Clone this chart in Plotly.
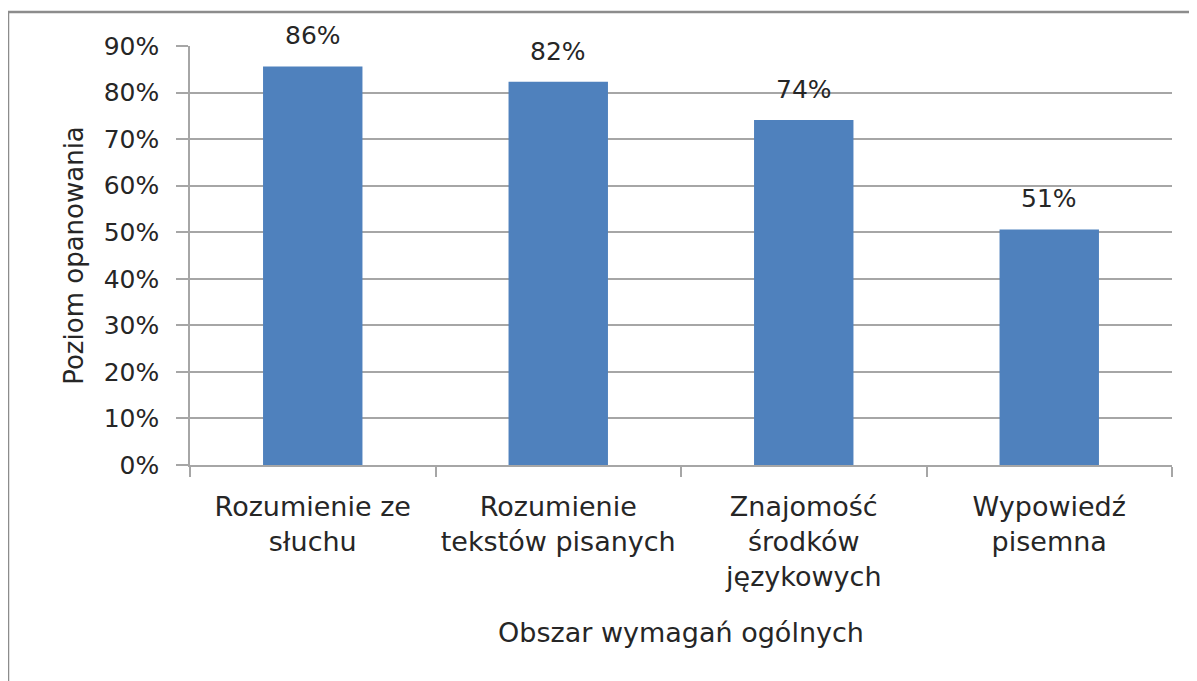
import plotly.graph_objects as go

categories = ["Rozumienie ze<br>słuchu", "Rozumienie<br>tekstów pisanych",
              "Znajomość<br>środków<br>językowych", "Wypowiedź<br>pisemna"]
values = [0.856, 0.823, 0.741, 0.506]
labels = ["86%", "82%", "74%", "51%"]
y_ticks = [0, 0.1, 0.2, 0.3, 0.4, 0.5, 0.6, 0.7, 0.8, 0.9]

FONT = "DejaVu Sans"
TXT = "#262626"
GRID = "#A6A6A6"
FS = 25
FS_CAT = 27

# figure coordinates (page body adds an 8px offset)
W, H = 1189, 673
L, R, T, B = 182, 25, 38, 216
PW, PH = W - L - R, H - T - B

fig = go.Figure()
fig.add_trace(go.Bar(x=categories, y=values, marker=dict(color="#4F81BD", line=dict(width=0)),
                     width=0.405, hoverinfo="skip"))

for c, v, t in zip(categories, values, labels):
    fig.add_annotation(x=c, y=v, text=t, showarrow=False, yanchor="bottom", yshift=14,
                       font=dict(family=FONT, size=FS, color=TXT))

fig.update_layout(
    width=W, height=H,
    margin=dict(l=L, r=R, t=T, b=B, autoexpand=False),
    paper_bgcolor="white", plot_bgcolor="white",
    showlegend=False,
    font=dict(family=FONT, size=FS, color=TXT),
)
fig.update_xaxes(
    showline=True, linecolor=GRID, linewidth=1.5,
    ticks="outside", tickson="boundaries", ticklen=10, tickcolor=GRID, tickwidth=1.5,
    ticklabelstandoff=17,
    tickfont=dict(family=FONT, size=FS_CAT, color=TXT),
    title=dict(text="Obszar wymagań ogólnych", standoff=32,
               font=dict(family=FONT, size=FS_CAT, color=TXT)),
    automargin=False,
)
fig.update_yaxes(
    range=[0, 0.9], tickvals=y_ticks, tickformat=".0%",
    showgrid=True, gridcolor=GRID, gridwidth=1.5,
    showline=True, linecolor=GRID, linewidth=1.5,
    ticks="outside", ticklen=12, tickcolor=GRID, tickwidth=1.5,
    ticklabelstandoff=12,
    tickfont=dict(family=FONT, size=FS, color=TXT),
    title=dict(text="Poziom opanowania", standoff=13,
               font=dict(family=FONT, size=26, color=TXT)),
    zeroline=False, automargin=False,
)

# outer chart frame (left and top edges visible)
fx = (0 - L) / PW
fy = (PH + T - 4) / PH
fig.add_shape(type="line", xref="paper", yref="paper",
              x0=fx, x1=fx, y0=fy, y1=-1.0,
              line=dict(color="#8C8C8C", width=2.5))
fig.add_shape(type="line", xref="paper", yref="paper",
              x0=fx, x1=1.2, y0=fy, y1=fy,
              line=dict(color="#8C8C8C", width=2.5))

fig.write_html("out.html")
